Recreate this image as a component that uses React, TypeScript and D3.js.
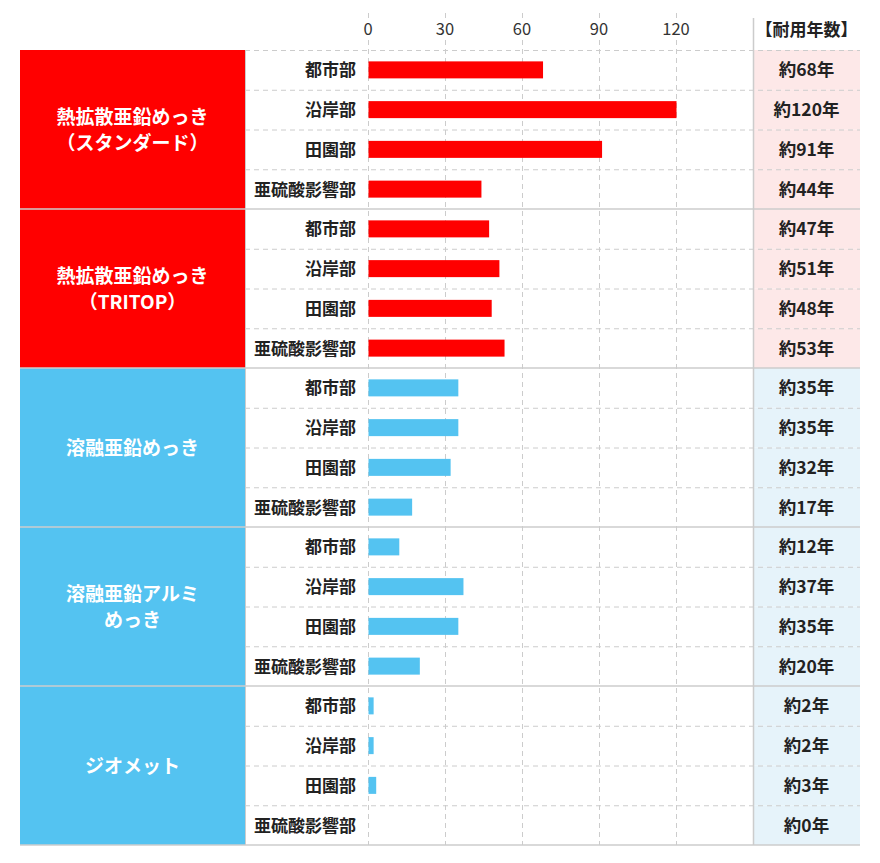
import * as d3 from 'd3';

const groups = [
  { name: ['熱拡散亜鉛めっき', '（スタンダード）'], type: 'red' },
  { name: ['熱拡散亜鉛めっき', '（TRITOP）'], type: 'red' },
  { name: ['溶融亜鉛めっき'], type: 'blue' },
  { name: ['溶融亜鉛アルミ', 'めっき'], type: 'blue' },
  { name: ['ジオメット'], type: 'blue' },
];

const areas = ['都市部', '沿岸部', '田園部', '亜硫酸影響部'];

const lifeYears = [
  [68, 120, 91, 44],
  [47, 51, 48, 53],
  [35, 35, 32, 17],
  [12, 37, 35, 20],
  [2, 2, 3, 0],
];

const ticks = [0, 30, 60, 90, 120];

const W = 880;
const H = 863;
const FONT = "'Noto Sans CJK JP', 'Noto Sans', sans-serif";

const colors: Record<string, { main: string; light: string }> = {
  red: { main: '#ff0000', light: '#fde8e8' },
  blue: { main: '#54c3f1', light: '#e6f3fa' },
};

export default function App() {
  const rows = groups.flatMap((g, gi) =>
    areas.map((a, ai) => ({ key: `${gi}-${ai}`, gi, area: a, value: lifeYears[gi][ai], type: g.type })),
  );

  const x = d3.scaleLinear().domain([0, 150]).range([368, 753]);
  const y = d3.scaleBand<string>().domain(rows.map(r => r.key)).range([50, 845]).padding(0);
  const bw = y.bandwidth();
  const barH = 17;

  const leftX0 = 20;
  const leftX1 = 245;
  const rightX0 = x(150);
  const rightX1 = 860;
  const grid = '#cccccc';

  return (
    <svg width={W} height={H} style={{ position: 'absolute', left: 0, top: 0, fontFamily: FONT }}>
      <rect width={W} height={H} fill="#fff" />

      {/* right column backgrounds */}
      {rows.map(r => (
        <rect key={'bg' + r.key} x={rightX0} y={y(r.key)} width={rightX1 - rightX0} height={bw} fill={colors[r.type].light} />
      ))}

      {/* vertical grid */}
      {ticks.map(t => (
        <line key={'vg' + t} x1={x(t) + 0.5} x2={x(t) + 0.5} y1={13} y2={845} stroke={grid} strokeDasharray="5,4" />
      ))}

      {/* row separators */}
      {rows.map((r, i) =>
        i % 4 === 0 ? null : (
          <line key={'hs' + r.key} x1={leftX1} x2={rightX1} y1={y(r.key)! + 0.5} y2={y(r.key)! + 0.5} stroke={grid} strokeDasharray="5,4" />
        ),
      )}
      <line x1={leftX1} x2={rightX1} y1={50.5} y2={50.5} stroke={grid} strokeDasharray="5,4" />

      {/* tick labels */}
      {ticks.map(t => (
        <g key={'tl' + t}>
          <rect x={x(t) - 18} y={18} width={36} height={20} fill="#fff" />
          <text x={x(t)} y={28} textAnchor="middle" dominantBaseline="central" fontSize={16.5} fill="#333">
            {t}
          </text>
        </g>
      ))}
      <text x={(rightX0 + rightX1) / 2} y={28} textAnchor="middle" dominantBaseline="central" fontSize={17} fontWeight="bold" fill="#222">
        【耐用年数】
      </text>

      {/* left group blocks */}
      {groups.map((g, gi) => {
        const y0 = y(`${gi}-0`)!;
        const y1 = y(`${gi}-3`)! + bw;
        const cy = (y0 + y1) / 2;
        const lh = 26;
        return (
          <g key={'grp' + gi}>
            <rect x={leftX0} y={y0} width={leftX1 - leftX0} height={y1 - y0} fill={colors[g.type].main} />
            {g.name.map((line, li) => (
              <text
                key={li}
                x={(leftX0 + leftX1) / 2}
                y={cy + (li - (g.name.length - 1) / 2) * lh - 1}
                textAnchor="middle"
                dominantBaseline="central"
                fontSize={19}
                fontWeight="bold"
                fill="#fff"
              >
                {line}
              </text>
            ))}
          </g>
        );
      })}

      {/* area labels, bars, values */}
      {rows.map(r => {
        const cy = y(r.key)! + bw / 2;
        return (
          <g key={'row' + r.key}>
            <text x={356} y={cy - 1} textAnchor="end" dominantBaseline="central" fontSize={17} fontWeight="bold" fill="#222">
              {r.area}
            </text>
            {r.value > 0 && (
              <rect x={x(0) + 0.5} y={cy - barH / 2} width={x(r.value) - x(0)} height={barH} fill={colors[r.type].main} />
            )}
            <text x={(rightX0 + rightX1) / 2} y={cy - 1} textAnchor="middle" dominantBaseline="central" fontSize={17.5} fontWeight="bold" fill="#222">
              {`約${r.value}年`}
            </text>
          </g>
        );
      })}

      {/* group separators */}
      {groups.map((g, gi) => {
        const yy = y(`${gi}-3`)! + bw;
        return <line key={'gs' + gi} x1={leftX0} x2={rightX1} y1={yy} y2={yy} stroke={grid} strokeWidth={1.5} />;
      })}
      <line x1={leftX1 + 0.5} x2={leftX1 + 0.5} y1={50} y2={845} stroke={grid} />
      <line x1={rightX0 + 0.5} x2={rightX0 + 0.5} y1={18} y2={845} stroke={grid} strokeWidth={1.5} />
    </svg>
  );
}
